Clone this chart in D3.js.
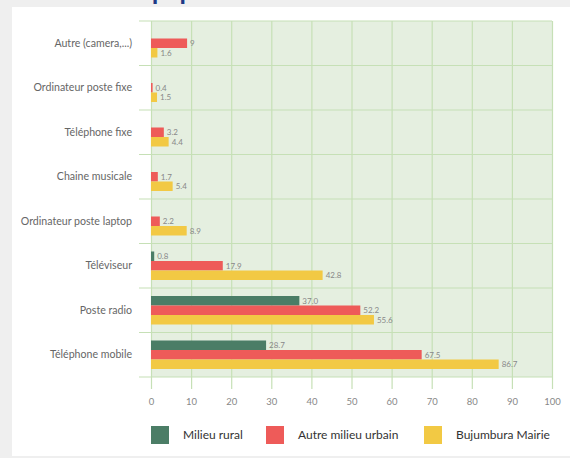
<!DOCTYPE html>
<html>
<head>
<meta charset="utf-8">
<script src="https://cdn.jsdelivr.net/npm/d3@7"></script>
<style>
  body { margin: 0; background: #efefef; }
  svg { display: block; font-family: Lato, "Open Sans", sans-serif; }
</style>
</head>
<body>
<svg width="570" height="458"></svg>
<script>
const categories = [
  'Autre (camera,...)',
  'Ordinateur poste fixe',
  'Téléphone fixe',
  'Chaine musicale',
  'Ordinateur poste laptop',
  'Téléviseur',
  'Poste radio',
  'Téléphone mobile'
];
const seriesNames = ['Milieu rural', 'Autre milieu urbain', 'Bujumbura Mairie'];
const rural = [null, null, null, null, null, 0.8, 37.0, 28.7];
const urbain = [9, 0.4, 3.2, 1.7, 2.2, 17.9, 52.2, 67.5];
const bujumbura = [1.6, 1.5, 4.4, 5.4, 8.9, 42.8, 55.6, 86.7];
const xTicks = [0, 10, 20, 30, 40, 50, 60, 70, 80, 90, 100];

const colors = ['#4b7d66', '#ee5b59', '#f2c944'];
const svg = d3.select('svg');

// white card + cut-off title above it
svg.append('text')
  .attr('x', 129).attr('y', 0)
  .attr('fill', '#1e3a86')
  .attr('font-size', 26).attr('font-weight', 'bold')
  .text('Équipements');
svg.append('rect')
  .attr('x', 12).attr('y', 7).attr('width', 558).attr('height', 449)
  .attr('fill', '#fff');

const plotLeft = 151, plotRight = 552, plotTop = 21, plotBottom = 377;

const xScale = d3.scaleLinear().domain([0, 100]).range([plotLeft, plotRight]);
const yScale = d3.scaleBand().domain(categories).range([plotTop, plotBottom]);
const bw = yScale.bandwidth();
const barH = 9.5;
const sub = d3.scaleBand().domain(seriesNames)
  .range([(bw - barH * 3) / 2, (bw + barH * 3) / 2]);

const rows = categories.map((c, i) => ({
  cat: c,
  vals: [rural[i], urbain[i], bujumbura[i]]
}));

// plot background
svg.append('rect')
  .attr('x', plotLeft).attr('y', plotTop)
  .attr('width', plotRight - plotLeft).attr('height', plotBottom - plotTop)
  .attr('fill', '#e5efe0');

const gridColor = '#c6e0b6';

// vertical grid + x ticks
const xAxis = d3.axisBottom(xScale).tickValues(xTicks)
  .tickSize(plotBottom - plotTop + 12).tickPadding(9);
const xAxisG = svg.append('g')
  .attr('transform', `translate(0,${plotTop})`)
  .call(xAxis);
xAxisG.select('.domain').remove();
xAxisG.selectAll('line').attr('stroke', gridColor).attr('stroke-width', 1.2);
xAxisG.selectAll('text').attr('fill', '#888').attr('font-size', 9.5)
  .attr('font-family', 'Lato, sans-serif');

// horizontal band boundaries
const bounds = categories.map(c => yScale(c)).concat([plotBottom]);
svg.append('g').selectAll('line').data(bounds).join('line')
  .attr('x1', plotLeft - 12).attr('x2', plotRight)
  .attr('y1', d => d).attr('y2', d => d)
  .attr('stroke', gridColor).attr('stroke-width', 1.2);

// category labels
svg.append('g').selectAll('text').data(categories).join('text')
  .attr('x', 132)
  .attr('y', d => yScale(d) + bw / 2)
  .attr('dy', '0.35em')
  .attr('text-anchor', 'end')
  .attr('fill', '#666')
  .attr('font-size', 10.6)
  .text(d => d);

const fmt = v => (Number.isInteger(v) && v < 10) ? String(v) : v.toFixed(1);

// bars
const groups = svg.append('g').selectAll('g').data(rows).join('g')
  .attr('transform', d => `translate(0,${yScale(d.cat)})`);

const cells = groups.selectAll('g')
  .data(d => d.vals.map((v, k) => ({ v, s: seriesNames[k], k })).filter(e => e.v !== null))
  .join('g');

cells.append('rect')
  .attr('x', xScale(0))
  .attr('y', d => sub(d.s))
  .attr('width', d => xScale(d.v) - xScale(0))
  .attr('height', sub.bandwidth())
  .attr('fill', d => colors[d.k]);

cells.append('text')
  .attr('x', d => xScale(d.v) + 3)
  .attr('y', d => sub(d.s) + sub.bandwidth() / 2)
  .attr('dy', '0.35em')
  .attr('fill', '#888')
  .attr('font-size', 8)
  .text(d => fmt(d.v));

// legend
const legendX = [151, 266, 424];
const legend = svg.append('g').selectAll('g').data(seriesNames).join('g')
  .attr('transform', (d, i) => `translate(${legendX[i]},426)`);
legend.append('rect')
  .attr('width', 18).attr('height', 18)
  .attr('fill', (d, i) => colors[i]);
legend.append('text')
  .attr('x', 32).attr('y', 9).attr('dy', '0.35em')
  .attr('fill', '#333').attr('font-size', 12)
  .text(d => d);
</script>
</body>
</html>
